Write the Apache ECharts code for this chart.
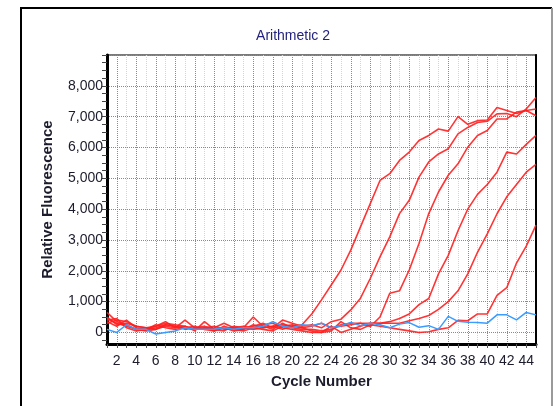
<!DOCTYPE html>
<html>
<head>
<meta charset="utf-8">
<script src="https://cdn.jsdelivr.net/npm/echarts@6/dist/echarts.min.js"></script>
<style>
  html, body { margin: 0; padding: 0; background: #fff; }
  #chart { width: 558px; height: 406px; }
</style>
</head>
<body>
<div id="chart"></div>
<script>
// cycle numbers 1..45
const cycles = [1, 2, 3, 4, 5, 6, 7, 8, 9, 10, 11, 12, 13, 14, 15, 16, 17, 18, 19, 20,
  21, 22, 23, 24, 25, 26, 27, 28, 29, 30, 31, 32, 33, 34, 35, 36, 37, 38, 39, 40,
  41, 42, 43, 44, 45];

// red amplification curves, earliest to latest
const wellA = [450, 300, 200, 100, 80, 150, 250, 200, 150, 100, 150, 50, 150, 100, 150, 100, 150, 200, 250, 200,
  250, 600, 1055, 1540, 2025, 2670, 3425, 4180, 4930, 5150, 5580, 5850, 6225, 6390, 6600, 6530, 7000, 6750, 6870, 6890,
  7300, 7200, 7100, 7200, 7030];
const wellB = [650, 350, 250, 100, 50, 100, 200, 150, 400, 150, 100, 150, 300, 150, 100, 200, 300, 150, 400, 300,
  200, 250, 150, 350, 430, 730, 1110, 1750, 2450, 3100, 3855, 4285, 5040, 5530, 5790, 5960, 6440, 6650, 6810, 6850,
  7090, 7100, 7000, 7250, 7620];
const wellC = [400, 450, 150, 50, 100, 200, 350, 150, 200, 50, 350, 100, 50, 200, 150, 500, 200, 100, 300, 150,
  100, 100, 50, 100, 250, 300, 300, 190, 500, 1270, 1350, 2025, 2885, 3855, 4555, 5100, 5470, 6010, 6390, 6550,
  6925, 6925, 7150, 7200, 7250];
const wellD = [350, 200, 400, 150, 100, 250, 150, 100, 150, 200, 100, 50, 200, 100, 50, 150, 100, 50, 200, 250,
  150, 200, 300, 150, 200, 250, 300, 300, 300, 350, 450, 600, 900, 1100, 1900, 2500, 3300, 4000, 4480, 4800,
  5200, 5850, 5790, 6100, 6390];
const wellE = [500, 250, 300, 200, 150, 100, 250, 200, 100, 150, 200, 100, 150, 50, 100, 250, 150, 200, 100, 200,
  150, 50, 0, 200, 0, 100, 200, 300, 300, 300, 300, 380, 450, 550, 750, 1000, 1350, 1900, 2600, 3200,
  3850, 4400, 4800, 5200, 5450];
const wellF = [300, 400, 350, 200, 150, 200, 300, 250, 200, 100, 150, 200, 100, 150, 200, 150, 250, 300, 150, 100,
  50, 0, 0, 50, 350, 150, 100, 250, 200, 150, 100, 50, 0, 20, 100, 150, 390, 380, 600, 600,
  1200, 1450, 2250, 2800, 3480];
// blue (no amplification)
const wellNeg = [100, 0, 250, 100, 100, -50, 0, 50, 150, 100, 100, 100, 150, 100, 150, 150, 200, 350, 200, 150,
  250, 220, 300, 150, 220, 320, 220, 300, 250, 150, 270, 320, 170, 220, 100, 520, 360, 330, 320, 300,
  570, 570, 410, 650, 570];

const redWells = [wellA, wellB, wellC, wellD, wellE, wellF];

// tick labels and tick marks
const yLabelValues = [0, 1000, 2000, 3000, 4000, 5000, 6000, 7000, 8000];
const yTickValues = [-250, 0, 250, 500, 750, 1000, 1250, 1500, 1750, 2000, 2250, 2500, 2750, 3000, 3250, 3500,
  3750, 4000, 4250, 4500, 4750, 5000, 5250, 5500, 5750, 6000, 6250, 6500, 6750, 7000, 7250, 7500, 7750, 8000,
  8250, 8500, 8750, 9000];

const font = '"Liberation Sans", Arial, sans-serif';
const textColor = '#1c1c2c';

const chart = echarts.init(document.getElementById('chart'));

const series = redWells.map(w => ({
  type: 'line',
  data: cycles.map((c, i) => [c, w[i]]),
  showSymbol: false,
  lineStyle: { color: '#ff1f1f', width: 1.6, opacity: 0.9 },
  silent: true
}));
series.push({
  type: 'line',
  data: cycles.map((c, i) => [c, wellNeg[i]]),
  showSymbol: false,
  lineStyle: { color: '#3a9cff', width: 1.5 },
  silent: true
});

chart.setOption({
  animation: false,
  title: {
    text: 'Arithmetic 2',
    left: 288,
    top: 24,
    textAlign: 'center',
    textStyle: { fontFamily: font, fontSize: 14, fontWeight: 'normal', color: '#23237f' }
  },
  graphic: [
    { type: 'polyline', shape: { points: [[21, 406], [21, 8], [552, 8]] }, style: { stroke: '#000', lineWidth: 2, fill: null } },
    { type: 'line', shape: { x1: 552, y1: 8, x2: 552, y2: 406 }, style: { stroke: '#9a9a9a', lineWidth: 2 } }
  ],
  grid: {
    left: 107, right: 22, top: 55, bottom: 62,
    show: true, borderColor: '#7a7a7a', borderWidth: 2
  },
  xAxis: {
    type: 'value',
    min: 1, max: 45, interval: 1,
    name: 'Cycle Number',
    nameLocation: 'middle',
    nameGap: 30,
    nameTextStyle: { fontFamily: font, fontSize: 15, fontWeight: 'bold', color: textColor },
    axisLine: { onZero: false, lineStyle: { color: '#000', width: 3 } },
    axisTick: { length: 4, lineStyle: { color: '#555' } },
    axisLabel: {
      fontFamily: font, fontSize: 14, color: textColor, margin: 10,
      formatter: v => (v % 2 === 0 ? String(v) : '')
    },
    splitLine: {
      show: true, showMinLine: true, showMaxLine: false,
      lineStyle: { type: 'dotted', width: 1, color: ['#d4d4d4', '#8a8a8a'] }
    }
  },
  yAxis: [{
    type: 'value',
    min: -375, max: 9000,
    name: 'Relative Fluorescence',
    nameLocation: 'middle',
    nameGap: 52,
    nameRotate: 90,
    nameTextStyle: { fontFamily: font, fontSize: 15, fontWeight: 'bold', color: textColor },
    axisLine: { show: true, lineStyle: { color: '#000', width: 3 } },
    axisTick: { show: true, length: 5, customValues: yTickValues, lineStyle: { color: '#444' } },
    axisLabel: {
      fontFamily: font, fontSize: 14, color: textColor, margin: 4,
      customValues: yLabelValues,
      formatter: v => v.toLocaleString('en-US')
    },
    splitLine: {
      show: true,
      lineStyle: { type: 'dotted', width: 1, color: ['rgba(0,0,0,0)', '#8a8a8a', 'rgba(0,0,0,0)', 'rgba(0,0,0,0)'] }
    }
  }, {
    type: 'value',
    position: 'right',
    min: -375, max: 9000,
    axisLine: { show: true, lineStyle: { color: '#000', width: 2 } },
    axisTick: { show: false },
    axisLabel: { show: false },
    splitLine: { show: false }
  }],
  series: series
});
</script>
</body>
</html>
